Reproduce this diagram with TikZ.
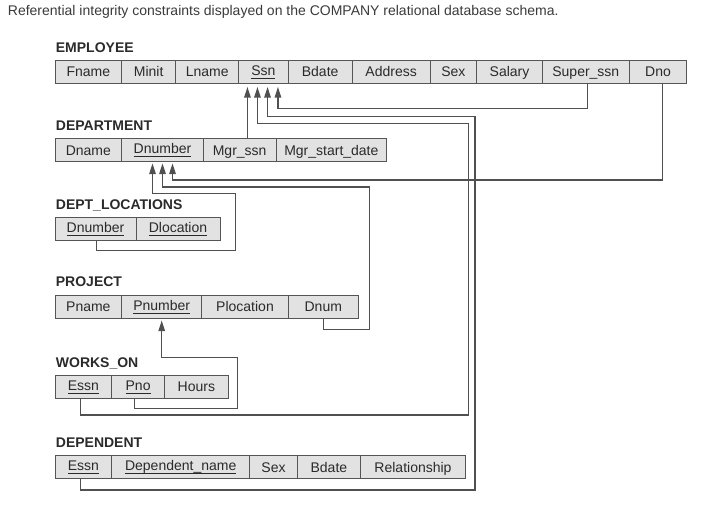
\documentclass[tikz,border=0pt]{standalone}
\usepackage{fontspec}
\setmainfont{Liberation Sans}
\usetikzlibrary{arrows.meta}
\definecolor{cellfill}{HTML}{E2E2E2}
\definecolor{edgegray}{HTML}{555555}
\definecolor{linegray}{HTML}{505050}
\definecolor{txt}{HTML}{2A2A2A}
\definecolor{captxt}{HTML}{3A3A3A}
\newcommand\keyattr[1]{\raisebox{1.5pt}{\sbox0{#1}\rlap{\rule[-3pt]{\wd0}{0.7pt}}\usebox0}}
\begin{document}
\begin{tikzpicture}[x=1pt,y=-1pt,
  cell/.style={draw=edgegray, fill=cellfill, line width=0.9pt, minimum height=23pt,
    inner sep=0pt, outer sep=0pt, anchor=north west, text height=10.6pt, text depth=0pt,
    font=\fontsize{14}{16}\selectfont, text=txt},
  rel/.style={anchor=base west, inner sep=0pt, font=\fontsize{14}{16}\selectfont\bfseries, text=txt},
  fk/.style={draw=linegray, line width=1.1pt},
  fkarrow/.style={fk, -{Triangle[length=10.5pt,width=6.5pt]}}]
\useasboundingbox (0,0) rectangle (711,509);

\node[anchor=base west, inner sep=0pt, font=\fontsize{14}{16}\selectfont, text=captxt] (cap) at (7.7,15)
  {Referential integrity constraints displayed on the COMPANY relational database schema.};

% EMPLOYEE
\node[rel] (lemp) at (55.7,52.3) {EMPLOYEE};
\node[cell, minimum width=66.7pt] (emp-fname) at (55,60) {Fname};
\node[cell, minimum width=54pt]   (emp-minit) at (121.7,60) {Minit};
\node[cell, minimum width=63pt]   (emp-lname) at (175.7,60) {Lname};
\node[cell, minimum width=49.3pt] (emp-ssn)   at (238.7,60) {\keyattr{Ssn}};
\node[cell, minimum width=64.3pt] (emp-bdate) at (288,60) {Bdate};
\node[cell, minimum width=77.7pt] (emp-addr)  at (352.3,60) {Address};
\node[cell, minimum width=46.7pt] (emp-sex)   at (430,60) {Sex};
\node[cell, minimum width=65.6pt] (emp-sal)   at (476.7,60) {Salary};
\node[cell, minimum width=87pt]   (emp-super) at (542.3,60) {Super\_ssn};
\node[cell, minimum width=57.4pt] (emp-dno)   at (629.3,60) {Dno};

% DEPARTMENT
\node[rel] (ldept) at (55.7,130.7) {DEPARTMENT};
\node[cell, minimum width=66.7pt]  (dept-dname)   at (55,138.5) {Dname};
\node[cell, minimum width=81.6pt]  (dept-dnumber) at (121.7,138.5) {\keyattr{Dnumber}};
\node[cell, minimum width=72.7pt]  (dept-mgrssn)  at (203.3,138.5) {Mgr\_ssn};
\node[cell, minimum width=110.7pt] (dept-mgrsd)   at (276,138.5) {Mgr\_start\_date};

% DEPT_LOCATIONS
\node[rel] (ldl) at (55.7,209.3) {DEPT\_LOCATIONS};
\node[cell, minimum width=81pt] (dl-dnumber) at (55,217.5) {\keyattr{Dnumber}};
\node[cell, minimum width=84pt] (dl-dloc)    at (136,217.5) {\keyattr{Dlocation}};

% PROJECT
\node[rel] (lproj) at (55.7,286) {PROJECT};
\node[cell, minimum width=66.7pt] (proj-pname)   at (55,295) {Pname};
\node[cell, minimum width=80pt]   (proj-pnumber) at (121.7,295) {\keyattr{Pnumber}};
\node[cell, minimum width=86.6pt] (proj-ploc)    at (201.7,295) {Plocation};
\node[cell, minimum width=70pt]   (proj-dnum)    at (288.3,295) {Dnum};

% WORKS_ON
\node[rel] (lwon) at (55.7,367) {WORKS\_ON};
\node[cell, minimum width=56.7pt] (won-essn)  at (55,375) {\keyattr{Essn}};
\node[cell, minimum width=52.8pt] (won-pno)   at (111.7,375) {\keyattr{Pno}};
\node[cell, minimum width=63.8pt] (won-hours) at (164.5,375) {Hours};

% DEPENDENT
\node[rel] (ldep) at (55.7,447.3) {DEPENDENT};
\node[cell, minimum width=56.7pt] (dep-essn)  at (55,455.5) {\keyattr{Essn}};
\node[cell, minimum width=138pt]  (dep-dname) at (111.7,455.5) {\keyattr{Dependent\_name}};
\node[cell, minimum width=47.6pt] (dep-sex)   at (249.7,455.5) {Sex};
\node[cell, minimum width=63.2pt] (dep-bdate) at (297.3,455.5) {Bdate};
\node[cell, minimum width=105pt]  (dep-rel)   at (360.5,455.5) {Relationship};

% arrow targets
\coordinate (s1) at ([xshift=-15.9pt]emp-ssn.south);
\coordinate (s2) at ([xshift=-5.9pt]emp-ssn.south);
\coordinate (s3) at ([xshift=4.2pt]emp-ssn.south);
\coordinate (s4) at ([xshift=14.6pt]emp-ssn.south);
\coordinate (d1) at ([xshift=-10pt]dept-dnumber.south);
\coordinate (d2) at (dept-dnumber.south);
\coordinate (d3) at ([xshift=10pt]dept-dnumber.south);
\coordinate (p1) at (proj-pnumber.south);

% foreign keys to EMPLOYEE.Ssn
\draw[fkarrow, shorten >=4pt] (s1 |- dept-mgrssn.north) -- (s1);
\draw[fkarrow, shorten >=4pt] ([xshift=-3.3pt]won-essn.south) |- (468.3,415) -- (468.3,123.5) -| (s2);
\draw[fkarrow, shorten >=4pt] ([xshift=-3.3pt]dep-essn.south) |- (475,490) -- (475,116.3) -| (s3);
\draw[fkarrow, shorten >=4pt] ([xshift=1.5pt]emp-super.south) |- (587,108.5) -| (s4);

% foreign keys to DEPARTMENT.Dnumber
\draw[fkarrow, shorten >=2pt] ([xshift=1.2pt]dl-dnumber.south) |- (235.7,250.7) -- (235.7,193.3) -| (d1);
\draw[fkarrow, shorten >=2pt] (proj-dnum.south) |- (369.3,329.3) -- (369.3,187) -| (d2);
\draw[fkarrow, shorten >=2pt] ([xshift=4.7pt]emp-dno.south) |- (662.7,180) -| (d3);

% foreign key to PROJECT.Pnumber
\draw[fkarrow, shorten >=2.5pt] ([xshift=-3.3pt]won-pno.south) |- (237.5,408.5) -- (237.5,357.5) -| (p1);
\end{tikzpicture}
\end{document}
